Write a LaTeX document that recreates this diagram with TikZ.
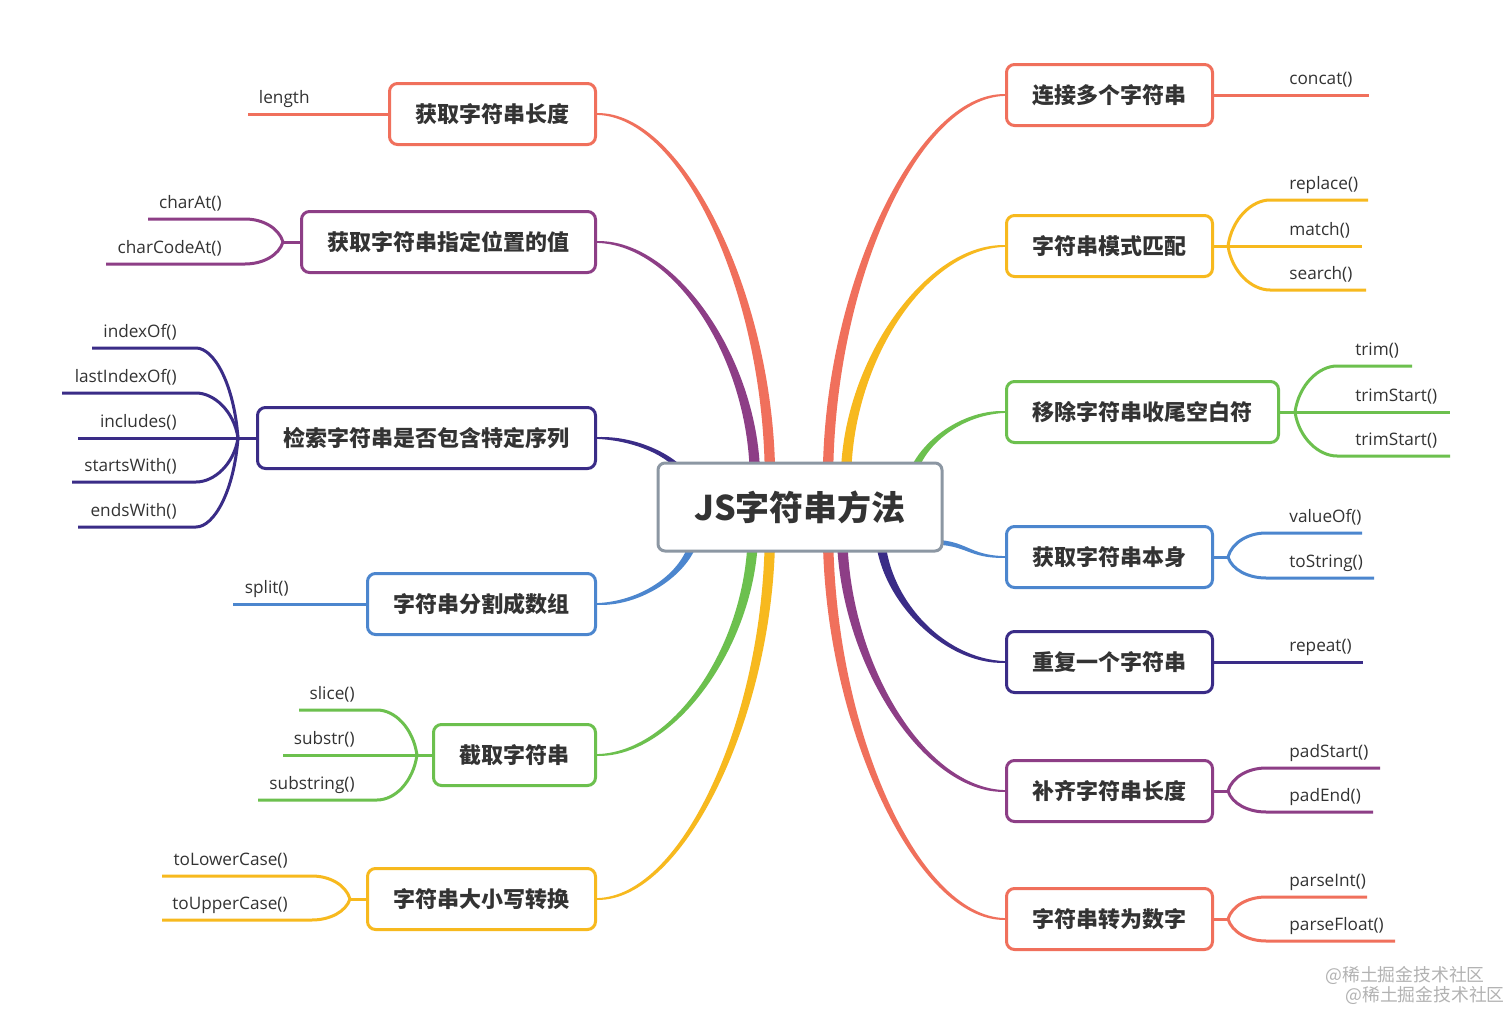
\documentclass[tikz,border=0pt]{standalone}
\usepackage{fontspec}
\setmainfont{Open Sans}
\newfontfamily\cjk{Noto Sans CJK SC}
\usetikzlibrary{calc}
\usetikzlibrary{backgrounds}

\definecolor{cOrange}{RGB}{240,112,92}
\definecolor{cPurple}{RGB}{141,62,134}
\definecolor{cIndigo}{RGB}{58,44,135}
\definecolor{cBlue}{RGB}{76,134,206}
\definecolor{cGreen}{RGB}{108,192,78}
\definecolor{cYellow}{RGB}{247,185,30}
\definecolor{cGray}{RGB}{140,151,163}
\definecolor{cText}{RGB}{51,51,51}

\tikzset{root/.style={draw=cGray, line width=1.5pt, rounded corners=3.5pt, fill=white,
         minimum width=142pt, minimum height=44pt, text=cText,
         font=\cjk\bfseries\fontsize{17}{20}\selectfont},
         topic/.style={draw=#1, line width=1.5pt, rounded corners=4pt, fill=white,
         minimum height=30.5pt, inner xsep=13pt, text=cText,
         font=\cjk\bfseries\fontsize{11}{13}\selectfont},
         twig/.style={draw=#1, line width=1.5pt},
         leaf/.style={text=cText, inner sep=0pt, font=\fontsize{8.6}{10}\selectfont},
         stamp/.style={text=black!30, inner sep=0pt, font=\cjk\fontsize{8.9}{11}\selectfont}}

% tapered branch: colour, start, end, half width at start
\newcommand{\limb}[4]{%
  \fill[#1] let \p1=(#2), \p2=(#3), \n1={sign(\x2-\x1)*sign(\y2-\y1)} in
    (\x1-#4,\y1) .. controls (\x1-#4,{0.5*\y1+0.5*\y2}) and ({0.5*\x1+0.5*\x2},{\y2+(\n1)*1.5pt}) .. (\x2,{\y2+(\n1)*0.45pt})
    -- (\x2,{\y2-(\n1)*0.45pt}) .. controls ({0.5*\x1+0.5*\x2},{\y2-(\n1)*1.5pt}) and (\x1+#4,{0.5*\y1+0.5*\y2}) .. (\x1+#4,\y1) -- cycle;}
% same, leaving the root sideways
\newcommand{\sidelimb}[4]{%
  \fill[#1] let \p1=(#2), \p2=(#3) in
    (\x1,\y1-#4) .. controls ({0.5*\x1+0.5*\x2},\y1-#4) and ({0.5*\x1+0.5*\x2},\y2-0.8pt) .. (\x2,\y2-0.45pt)
    -- (\x2,\y2+0.45pt) .. controls ({0.5*\x1+0.5*\x2},\y2+0.8pt) and ({0.5*\x1+0.5*\x2},\y1+#4) .. (\x1,\y1+#4) -- cycle;}

\begin{document}
\begin{tikzpicture}[x=0.5pt, y=-0.5pt]
        \useasboundingbox (0,0) rectangle (1512,1012);
        
        % Center
        \node[root] (root) at (800,507) {JS字符串方法};
        
        % Left side
        \node[topic=cOrange, anchor=east] (len) at (597,114) {获取字符串长度};
        \coordinate (len-e) at (248,114);
        \draw[twig=cOrange] (len.west) -- (len-e);
        \node[leaf, anchor=base east] (len-1) at (310,103) {length};
        
        \node[topic=cPurple, anchor=east] (pos) at (597,242) {获取字符串指定位置的值};
        \coordinate (pos-f) at (283,242);
        \draw[twig=cPurple] (pos.west) -- (pos-f);
        \foreach \ly/\lx/\lbl [count=\i] in {219/148/charAt(), 264/106/charCodeAt()} {
            \coordinate (pos-e\i) at (\lx,\ly);
            \draw[twig=cPurple] (pos-f) .. controls +(-4,{(\ly-242)*0.6}) and +(18,0) .. (245,\ly) -- (pos-e\i);
            \node[leaf, anchor=base east] (pos-\i) at (222,\ly-11) {\lbl};
        }
        
        \node[topic=cIndigo, anchor=east] (seek) at (597,438) {检索字符串是否包含特定序列};
        \coordinate (seek-f) at (238,438);
        \draw[twig=cIndigo] (seek.west) -- (seek-f);
        \foreach \ly/\lx/\lbl [count=\i] in {348/92/indexOf(), 393/62/lastIndexOf(), 438/78/includes(),
                                             482/72/startsWith(), 527/78/endsWith()} {
            \coordinate (seek-e\i) at (\lx,\ly);
            \draw[twig=cIndigo] (seek-f) .. controls +(-4,{(\ly-438)*0.6}) and +(18,0) .. (196,\ly) -- (seek-e\i);
            \node[leaf, anchor=base east] (seek-\i) at (177,\ly-11) {\lbl};
        }
        
        \node[topic=cBlue, anchor=east] (split) at (597,604) {字符串分割成数组};
        \coordinate (split-e) at (233,604);
        \draw[twig=cBlue] (split.west) -- (split-e);
        \node[leaf, anchor=base east] (split-1) at (289,593) {split()};
        
        \node[topic=cGreen, anchor=east] (cut) at (597,755) {截取字符串};
        \coordinate (cut-f) at (417,755);
        \draw[twig=cGreen] (cut.west) -- (cut-f);
        \foreach \ly/\lx/\lbl [count=\i] in {710/299/slice(), 755/283/substr(), 800/258/substring()} {
            \coordinate (cut-e\i) at (\lx,\ly);
            \draw[twig=cGreen] (cut-f) .. controls +(-4,{(\ly-755)*0.6}) and +(18,0) .. (377,\ly) -- (cut-e\i);
            \node[leaf, anchor=base east] (cut-\i) at (355,\ly-11) {\lbl};
        }
        
        \node[topic=cYellow, anchor=east] (case) at (597,899) {字符串大小写转换};
        \coordinate (case-f) at (350,899);
        \draw[twig=cYellow] (case.west) -- (case-f);
        \foreach \ly/\lx/\lbl [count=\i] in {876/162/toLowerCase(), 920/162/toUpperCase()} {
            \coordinate (case-e\i) at (\lx,\ly);
            \draw[twig=cYellow] (case-f) .. controls +(-4,{(\ly-899)*0.6}) and +(18,0) .. (312,\ly) -- (case-e\i);
            \node[leaf, anchor=base east] (case-\i) at (288,\ly-11) {\lbl};
        }
        
        % Right side
        \node[topic=cOrange, anchor=west] (join) at (1005,95) {连接多个字符串};
        \coordinate (join-e) at (1369,95);
        \draw[twig=cOrange] (join.east) -- (join-e);
        \node[leaf, anchor=base west] (join-1) at (1289,84) {concat()};
        
        \node[topic=cYellow, anchor=west] (match) at (1005,246) {字符串模式匹配};
        \coordinate (match-f) at (1228,246);
        \draw[twig=cYellow] (match.east) -- (match-f);
        \foreach \ly/\lx/\lbl [count=\i] in {200/1368/replace(), 246/1362/match(), 290/1366/search()} {
            \coordinate (match-e\i) at (\lx,\ly);
            \draw[twig=cYellow] (match-f) .. controls +(4,{(\ly-246)*0.6}) and +(-18,0) .. (1270,\ly) -- (match-e\i);
            \node[leaf, anchor=base west] (match-\i) at (1289,\ly-11) {\lbl};
        }
        
        \node[topic=cGreen, anchor=west] (trim) at (1005,412) {移除字符串收尾空白符};
        \coordinate (trim-f) at (1295,412);
        \draw[twig=cGreen] (trim.east) -- (trim-f);
        \foreach \ly/\lx/\lbl [count=\i] in {366/1412/trim(), 412/1450/trimStart(), 456/1450/trimStart()} {
            \coordinate (trim-e\i) at (\lx,\ly);
            \draw[twig=cGreen] (trim-f) .. controls +(4,{(\ly-412)*0.6}) and +(-18,0) .. (1337,\ly) -- (trim-e\i);
            \node[leaf, anchor=base west] (trim-\i) at (1355,\ly-11) {\lbl};
        }
        
        \node[topic=cBlue, anchor=west] (self) at (1005,557) {获取字符串本身};
        \coordinate (self-f) at (1228,557);
        \draw[twig=cBlue] (self.east) -- (self-f);
        \foreach \ly/\lx/\lbl [count=\i] in {533/1362/valueOf(), 578/1374/toString()} {
            \coordinate (self-e\i) at (\lx,\ly);
            \draw[twig=cBlue] (self-f) .. controls +(4,{(\ly-557)*0.6}) and +(-18,0) .. (1266,\ly) -- (self-e\i);
            \node[leaf, anchor=base west] (self-\i) at (1289,\ly-11) {\lbl};
        }
        
        \node[topic=cIndigo, anchor=west] (rep) at (1005,662) {重复一个字符串};
        \coordinate (rep-e) at (1363,662);
        \draw[twig=cIndigo] (rep.east) -- (rep-e);
        \node[leaf, anchor=base west] (rep-1) at (1289,651) {repeat()};
        
        \node[topic=cPurple, anchor=west] (pad) at (1005,791) {补齐字符串长度};
        \coordinate (pad-f) at (1228,791);
        \draw[twig=cPurple] (pad.east) -- (pad-f);
        \foreach \ly/\lx/\lbl [count=\i] in {768/1380/padStart(), 812/1373/padEnd()} {
            \coordinate (pad-e\i) at (\lx,\ly);
            \draw[twig=cPurple] (pad-f) .. controls +(4,{(\ly-791)*0.6}) and +(-18,0) .. (1266,\ly) -- (pad-e\i);
            \node[leaf, anchor=base west] (pad-\i) at (1289,\ly-11) {\lbl};
        }
        
        \node[topic=cOrange, anchor=west] (num) at (1005,919) {字符串转为数字};
        \coordinate (num-f) at (1228,919);
        \draw[twig=cOrange] (num.east) -- (num-f);
        \foreach \ly/\lx/\lbl [count=\i] in {897/1367/parseInt(), 941/1395/parseFloat()} {
            \coordinate (num-e\i) at (\lx,\ly);
            \draw[twig=cOrange] (num-f) .. controls +(4,{(\ly-919)*0.6}) and +(-18,0) .. (1266,\ly) -- (num-e\i);
            \node[leaf, anchor=base west] (num-\i) at (1289,\ly-11) {\lbl};
        }
        
        % Watermark
        \node[stamp, anchor=west] (wm-1) at (1325,975) {@稀土掘金技术社区};
        \node[stamp, anchor=west] (wm-2) at (1345,995) {@稀土掘金技术社区};
        
        % Branches from the root
        \begin{scope}[on background layer]
            \fill[white] (0,0) rectangle (1512,1012);
            \limb{cOrange}{$(root)+(-30,-27)$}{len.east}{2.6pt}
            \limb{cPurple}{$(root)+(-45,-27)$}{pos.east}{2.6pt}
            \limb{cIndigo}{$(root)+(-110,-17)$}{seek.east}{2.2pt}
            \limb{cBlue}{$(root)+(-105,23)$}{split.east}{2.2pt}
            \limb{cGreen}{$(root)+(-47,23)$}{cut.east}{2.6pt}
            \limb{cYellow}{$(root)+(-30,23)$}{case.east}{2.6pt}
            \limb{cOrange}{$(root)+(28,-27)$}{join.west}{2.6pt}
            \limb{cYellow}{$(root)+(46,-27)$}{match.west}{2.6pt}
            \limb{cGreen}{$(root)+(110,-17)$}{trim.west}{2.2pt}
            \sidelimb{cBlue}{$(root)+(130,35)$}{self.west}{1.2pt}
            \limb{cIndigo}{$(root)+(80,23)$}{rep.west}{2.4pt}
            \limb{cPurple}{$(root)+(42,23)$}{pad.west}{2.6pt}
            \limb{cOrange}{$(root)+(28,23)$}{num.west}{2.6pt}
        \end{scope}
        
    \end{tikzpicture}
\end{document}
